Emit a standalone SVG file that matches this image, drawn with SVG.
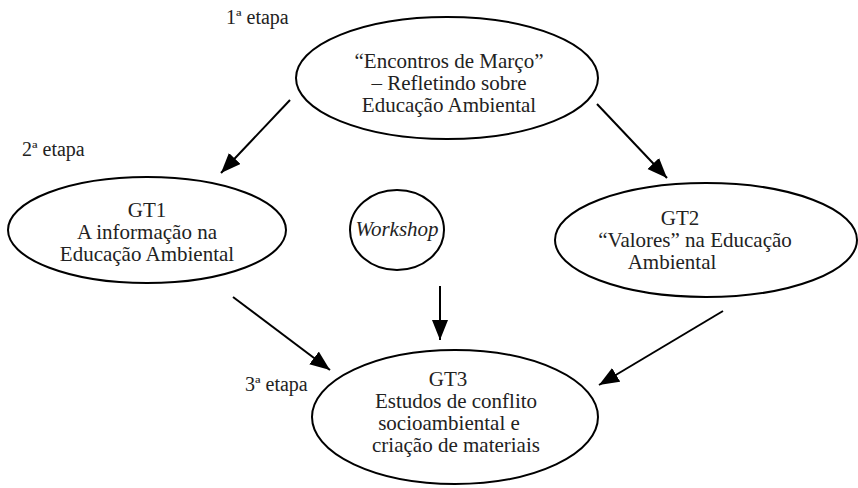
<svg xmlns="http://www.w3.org/2000/svg" width="858" height="488" viewBox="0 0 858 488">
<style>
text{font-family:'Liberation Serif','DejaVu Serif','Times New Roman',serif;font-size:21px;fill:#222}
.n{fill:#fff;stroke:#000;stroke-width:2}
.t{text-anchor:middle}
.l{font-size:20px}
.c{stroke:#000;stroke-width:2;fill:none;marker-end:url(#ah)}
</style>
<defs>
<marker id="ah" markerUnits="userSpaceOnUse" markerWidth="22" markerHeight="18" refX="20" refY="8" orient="auto">
<path d="M0,0 L20,8 L0,16 Z" fill="#000"/>
</marker>
</defs>
<rect width="858" height="488" fill="#fff"/>
<g id="labels">
<text class="l" x="226" y="24">1ª etapa</text>
<text class="l" x="22" y="156">2ª etapa</text>
<text class="l" x="245" y="391">3ª etapa</text>
</g>
<g id="connectors">
<line class="c" x1="290" y1="100" x2="221" y2="173"/>
<line class="c" x1="597" y1="104" x2="667" y2="178"/>
<line class="c" x1="440" y1="286" x2="440" y2="340"/>
<line class="c" x1="233" y1="297" x2="330" y2="370"/>
<line class="c" x1="723" y1="311" x2="599" y2="385"/>
</g>
<g id="etapa1">
<ellipse class="n" cx="447" cy="78" rx="151" ry="61"/>
<text class="t" x="449" y="68">“Encontros de Março”</text>
<text class="t" x="449" y="90">– Refletindo sobre</text>
<text class="t" x="449" y="112">Educação Ambiental</text>
</g>
<g id="gt1">
<ellipse class="n" cx="147" cy="230" rx="139" ry="53"/>
<text class="t" x="147" y="217">GT1</text>
<text class="t" x="147" y="239">A informação na</text>
<text class="t" x="147" y="261">Educação Ambiental</text>
</g>
<g id="workshop">
<ellipse class="n" cx="397" cy="230" rx="47" ry="40"/>
<text class="t" x="397" y="236" font-style="italic">Workshop</text>
</g>
<g id="gt2">
<ellipse class="n" cx="706" cy="240" rx="151" ry="57"/>
<text class="t" x="680" y="225">GT2</text>
<text class="t" x="695" y="247">“Valores” na Educação</text>
<text class="t" x="672" y="269">Ambiental</text>
</g>
<g id="gt3">
<ellipse class="n" cx="455" cy="417" rx="143" ry="67"/>
<text class="t" x="448" y="386">GT3</text>
<text class="t" x="456" y="408">Estudos de conflito</text>
<text class="t" x="449" y="430">socioambiental e</text>
<text class="t" x="456" y="452">criação de materiais</text>
</g>
</svg>
